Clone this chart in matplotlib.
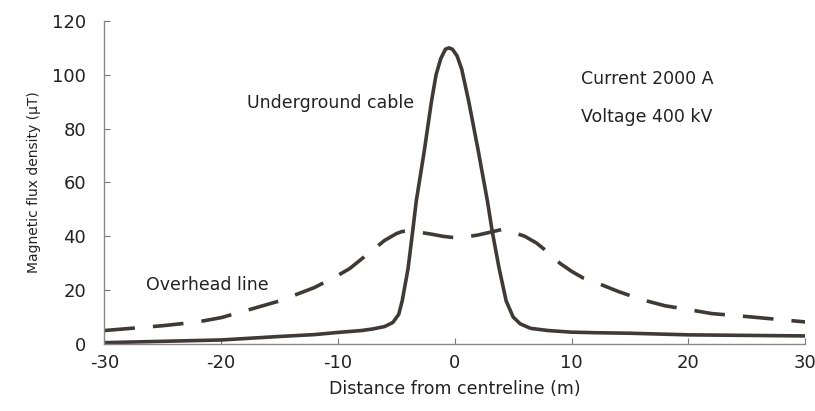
import matplotlib
matplotlib.use("Agg")
import matplotlib.pyplot as plt

# Underground cable
cable_x = [-30, -25, -20, -15, -12, -10, -8, -7, -6, -5.3, -4.8, -4.5, -4.0, -3.6, -3.3, -2.6, -2.0,
           -1.6, -1.2, -0.8, -0.5, -0.2, 0.2, 0.6, 1.2, 2.0, 2.8, 3.2, 3.8, 4.4, 5.0, 5.6, 6.5, 8, 10,
           12, 15, 20, 25, 30]
cable_y = [0.5, 1.0, 1.5, 2.8, 3.5, 4.3, 5.0, 5.6, 6.5, 8.0, 11, 16, 28, 42, 53, 72, 90,
           100, 106, 109.5, 110, 109.5, 107, 102, 90, 72, 53, 42, 28, 16, 10, 7.5, 5.8, 5.0, 4.4,
           4.2, 4.0, 3.4, 3.2, 3.0]

# Overhead line
over_x = [-30, -25, -22, -20, -17, -15, -12, -10, -9, -8, -7, -6, -5, -4.5, -4, -3, -2, -1, 0, 1, 2,
          3, 4, 5, 6, 7, 8, 9, 10, 11, 12, 14, 16, 18, 20, 22, 25, 28, 30]
over_y = [5, 6.8, 8.2, 9.8, 13.5, 16, 21, 25.5, 28, 31.5, 35, 38.5, 41, 41.8, 42, 41.5, 40.8, 40,
          39.5, 39.8, 40.5, 41.5, 42.5, 41.5, 40, 37.5, 34, 30, 27, 24.5, 23, 19.5, 16.5, 14.2,
          12.8, 11.3, 10.2, 9.0, 8.2]

x_ticks = [-30, -20, -10, 0, 10, 20, 30]
y_ticks = [0, 20, 40, 60, 80, 100, 120]

plt.rcParams['font.family'] = ['DejaVu Sans']
fig = plt.figure(figsize=(8.15, 4.11), dpi=100)
ax = fig.add_axes([0.128, 0.163, 0.86, 0.786])

line_col = '#3f3a35'
ax.plot(cable_x, cable_y, color=line_col, lw=2.6, solid_capstyle='round')
ax.plot(over_x, over_y, color=line_col, lw=2.6, dashes=(8.5, 5))

ax.set_xlim(-30, 30)
ax.set_ylim(0, 120)
ax.set_xticks(x_ticks)
ax.set_yticks(y_ticks)
ax.set_xticklabels([str(v) for v in x_ticks])
ax.tick_params(axis='both', direction='in', length=4, width=0.8, colors='#777777',
               labelcolor='#222222', labelsize=13)
ax.tick_params(axis='y', pad=13)
ax.tick_params(axis='x', pad=7)
for s in ['top', 'right']:
    ax.spines[s].set_visible(False)
for s in ['left', 'bottom']:
    ax.spines[s].set_color('#888888')
    ax.spines[s].set_linewidth(1.0)

ax.set_xlabel('Distance from centreline (m)', fontsize=12.5, color='#222222', labelpad=6)
ax.set_ylabel('Magnetic flux density (\u03bcT)', fontsize=10, color='#222222', labelpad=8)

ax.text(-10.6, 89.6, 'Underground cable', fontsize=12.5, ha='center', va='center', color='#222222')
ax.text(10.8, 98.5, 'Current 2000 A', fontsize=12.5, ha='left', va='center', color='#222222')
ax.text(10.8, 84.4, 'Voltage 400 kV', fontsize=12.5, ha='left', va='center', color='#222222')
ax.text(-26.4, 22, 'Overhead line', fontsize=12.5, ha='left', va='center', color='#222222')

fig.savefig('out.png', dpi=100)
